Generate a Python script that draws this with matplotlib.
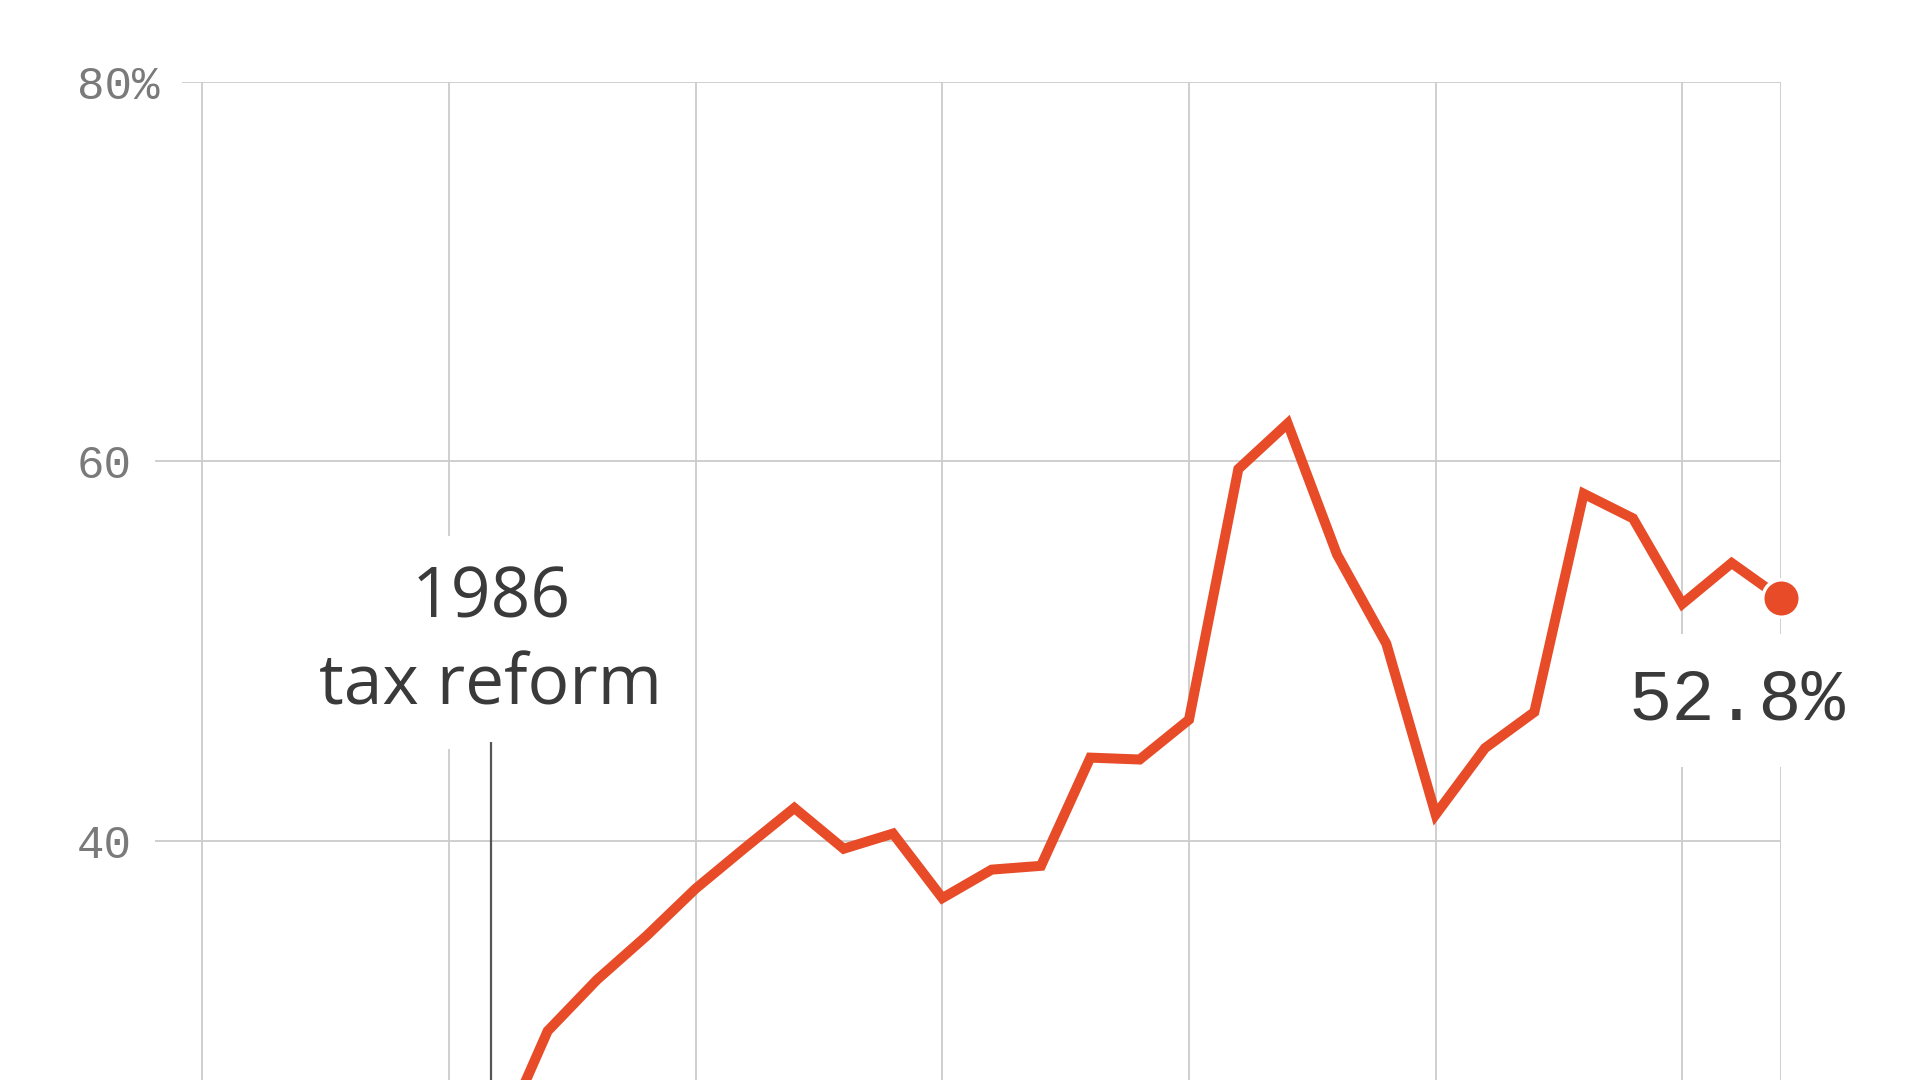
# Pass-through share chart, 1986 tax reform annotation

import numpy             as np
import matplotlib.pyplot as plt


# data
years  = [ 1986, 1987, 1988, 1989, 1990, 1991, 1992, 1993, 1994, 1995,
           1996, 1997, 1998, 1999, 2000, 2001, 2002, 2003, 2004, 2005,
           2006, 2007, 2008, 2009, 2010, 2011, 2012 ]
shares = [ 24.1, 30.0, 32.7, 35.0, 37.5, 39.65, 41.75, 39.6, 40.4, 37.0,
           38.5, 38.7, 44.4, 44.3, 46.4, 59.6, 62.0, 55.1, 50.4, 41.4,
           44.9, 46.8, 58.3, 57.0, 52.5, 54.65, 52.8 ]

y_ticks       = [ 40, 60, 80 ]
y_tick_labels = [ '40', '60', '80%' ]
x_grid_years  = [ 1980, 1985, 1990, 1995, 2000, 2005, 2010, 2012 ]

reform_year  = 1985.85
reform_label = '1986\ntax reform'
end_label    = '52.8%'


# styles
LINE_COLOR = '#e84b27'
GRID_COLOR = '#cccccc'
TEXT_DARK  = '#3a3a3a'
TEXT_GRAY  = '#7a7a7a'
MONO       = 'Liberation Mono'
SANS       = 'Open Sans'


fig = plt.figure( figsize=(19.2, 10.8), dpi=100 )
ax  = fig.add_axes( [ 153/1920, 0, (1781-153)/1920, 998.3/1080 ] )

ax.set_xlim( 1979.0, 2012 )
ax.set_ylim( 27.42, 80 )

for s in ax.spines.values():
    s.set_visible( False )
ax.set_xticks( [] )
ax.set_yticks( [] )

# grid
for yv in y_ticks:
    ax.axhline( yv, color=GRID_COLOR, lw=1.3, zorder=1 )
for xv in x_grid_years:
    ax.axvline( xv, color=GRID_COLOR, lw=1.3, zorder=1 )

# y labels, left aligned at the figure edge
for yv, lab in zip( y_ticks, y_tick_labels ):
    ax.text( (77-153)/1628, yv, lab, transform=ax.get_yaxis_transform(),
             ha='left', va='center_baseline', fontsize=33, family=MONO,
             color=TEXT_GRAY, clip_on=False, zorder=3,
             bbox=dict( boxstyle='square,pad=0.5', fc='white', ec='none' ) )

# tax reform marker
ax.vlines( reform_year, 20, 45.2, color='#555555', lw=1.6, zorder=4 )
ax.text( reform_year, 50.45, reform_label, ha='center', va='center',
         fontsize=50, family=SANS, color=TEXT_DARK, linespacing=1.32,
         zorder=3,
         bbox=dict( boxstyle='square,pad=0.4', fc='white', ec='none' ) )

# series
ax.plot( years, shares, color=LINE_COLOR, lw=7.2, solid_joinstyle='miter',
         zorder=5 )
ax.plot( years[-1], shares[-1], 'o', color=LINE_COLOR, ms=27,
         mec='white', mew=2.5, zorder=6, clip_on=False )

ax.annotate( end_label, ( years[-1], shares[-1] ), xytext=(-44, -102),
             textcoords='offset pixels', ha='center', va='center',
             fontsize=52, family=MONO, color=TEXT_DARK, zorder=3,
             bbox=dict( boxstyle='square,pad=0.45', fc='white', ec='none' ) )

fig.savefig( 'out.png', dpi=100 )
